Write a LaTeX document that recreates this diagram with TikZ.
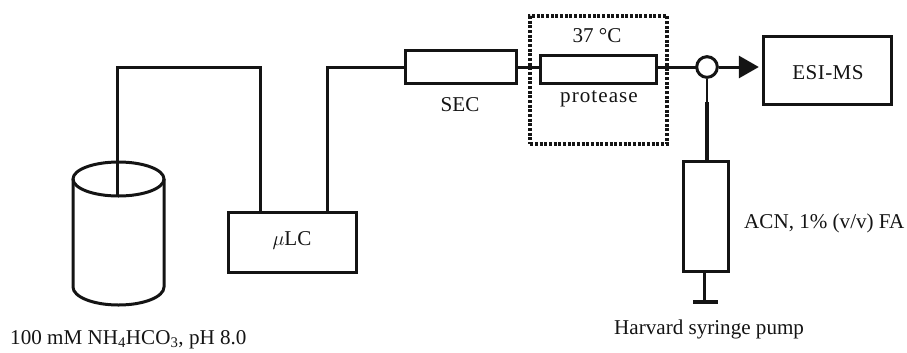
\documentclass[tikz,border=0pt]{standalone}
\usepackage{fontspec}
\setmainfont{Liberation Serif}
\usepackage{xcolor}
\usetikzlibrary{arrows.meta, positioning, calc}
\definecolor{mydark}{RGB}{20,20,20}
\tikzset{
  unit/.style={rectangle, draw=mydark, fill=white, line width=0.09cm, inner sep=0pt},
  label/.style={font=\fontsize{18}{20}\selectfont, text=mydark, inner sep=0pt},
  tube/.style={draw=mydark, line width=0.09cm},
  needle/.style={draw=mydark, line width=0.035cm},
  barrel/.style={draw=mydark, line width=0.14cm}
}

\begin{document}
\begin{tikzpicture}[x=0.03cm, y=-0.03cm]
  \useasboundingbox (0,0) rectangle (907,352);

  % Solvent reservoir
  \draw[tube] (73,179) -- (73,287) arc[start angle=180, end angle=0, x radius=45.5, y radius=18] -- (164,179);
  \draw[tube] (118.5,179) ellipse [x radius=45.5, y radius=17];
  \coordinate (dip) at (117,196);
  \node[label, anchor=west] (buffer) at (10,340) {100 mM NH\textsubscript{4}HCO\textsubscript{3}, pH 8.0};

  % Units along the flow path
  \node[unit, minimum width=3.84cm, minimum height=1.8cm] (lc) at (292,242) {};
  \node[label] (lctext) at (292,240) {$\mu$LC};
  \node[unit, minimum width=3.33cm, minimum height=1cm] (sec) at (460.5,67) {};
  \node[label] (sectext) at (460,105) {SEC};
  \node[unit, minimum width=3.5cm, minimum height=0.84cm] (reactor) at (598.5,69.5) {};
  \node[label] (reactortext) at (599,99) {\addfontfeature{LetterSpace=5}protease};
  \node[label] (temp) at (597,36) {37 °C};
  \node[unit, minimum width=3.84cm, minimum height=2.04cm] (esims) at (827,70) {};
  \node[label] (esimstext) at (828,73) {\addfontfeature{LetterSpace=2}ESI-MS};

  % Heated zone
  \node[rectangle, draw=mydark, line width=0.11cm, dash pattern=on 0.09cm off 0.05cm, minimum width=4.1cm, minimum height=3.84cm, inner sep=0pt] (oven) at (598.5,80) {};

  % Capillaries
  \draw[tube] (dip) -- (117,67) -| (lc.north -| 260,0);
  \draw[tube] (lc.north -| 327,0) |- (sec.west);
  \draw[tube] (sec.east) -- (reactor.west |- sec.east);
  \draw[tube] (reactor.east |- sec.east) -- (697,67);

  % Mixing tee and exit to the source
  \node[circle, draw=mydark, fill=white, line width=0.09cm, minimum size=0.62cm, inner sep=0pt] (tee) at (707,67) {};
  \draw[tube, -{Triangle[length=0.6cm, width=0.66cm]}, shorten >=0.08cm] (tee.east) -- (tee.east -| esims.west);

  % Syringe
  \node[unit, minimum width=1.35cm, minimum height=3.3cm] (syringe) at (705.5,216) {};
  \node[label, anchor=west] (acn) at (744,223) {ACN, 1\% (v/v) FA};
  \coordinate (joint) at (707,102);
  \draw[needle] (tee.south) -- (joint);
  \draw[barrel] (joint) -- (joint |- syringe.north);
  \coordinate (foot) at (704,302);
  \draw[tube] (foot |- syringe.south) -- (foot);
  \draw[draw=mydark, line width=0.12cm] ($(foot)+(-11,0)$) -- ($(foot)+(14,0)$);
  \node[label, anchor=west] (pump) at (614,329) {Harvard syringe pump};
\end{tikzpicture}
\end{document}
